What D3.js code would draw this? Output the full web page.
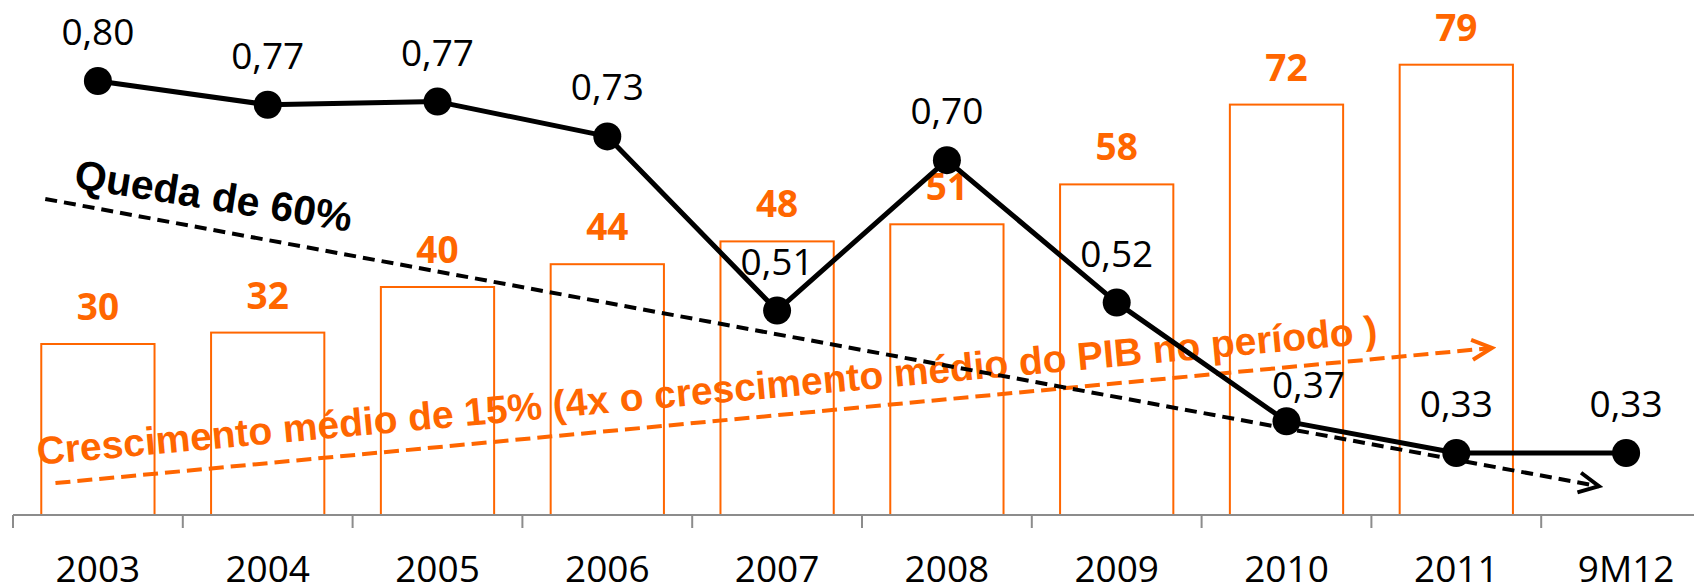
<!DOCTYPE html>
<html>
<head>
<meta charset="utf-8">
<script src="https://cdn.jsdelivr.net/npm/d3@7"></script>
<style>
  body { margin: 0; background: #fff; }
  svg { display: block; }
</style>
</head>
<body>
<svg id="chart"></svg>
<script>
const svgWidth = 1694;
const svgHeight = 587;
const orange = "#FF6600";

// data
const categories = ["2003", "2004", "2005", "2006", "2007", "2008", "2009", "2010", "2011", "9M12"];
const barValues = [30, 32, 40, 44, 48, 51, 58, 72, 79, null];
const lineValues = [0.80, 0.77, 0.774, 0.73, 0.51, 0.70, 0.52, 0.37, 0.33, 0.33];

// annotations (x in category units, y in the unit of the series they follow)
const dropTrend = { x0: 0.19, y0: 0.651, x1: 9.34, y1: 0.288 };
const growthTrend = { x0: 0.25, y0: 5.6, x1: 8.71, y1: 29.3 };
const dropText = "Queda de 60%";
const growthText = "Crescimento médio de 15% (4x o crescimento médio do PIB no período )";

const left = 13;
const step = 169.8;
const baseY = 515;

const svg = d3.select("#chart")
  .attr("width", svgWidth)
  .attr("height", svgHeight);

const x = d3.scaleBand()
  .domain(categories)
  .range([left, left + step * categories.length])
  .padding(0);

const xi = d3.scaleLinear()
  .domain([0, categories.length])
  .range([left, left + step * categories.length]);

const yBar = d3.scaleLinear().domain([0, 90]).range([baseY, baseY - 513]);
const yLine = d3.scaleLinear().domain([0.33, 0.80]).range([453, 81]);

const cx = c => x(c) + x.bandwidth() / 2;
const barW = x.bandwidth() * 0.667;

// bars
const bars = categories.map((c, i) => ({ c, v: barValues[i] })).filter(d => d.v != null);

svg.append("g")
  .selectAll("rect")
  .data(bars)
  .join("rect")
  .attr("x", d => cx(d.c) - barW / 2)
  .attr("y", d => yBar(d.v))
  .attr("width", barW)
  .attr("height", d => baseY - yBar(d.v))
  .attr("fill", "#fff")
  .attr("stroke", orange)
  .attr("stroke-width", 2);

svg.append("g")
  .selectAll("text")
  .data(bars)
  .join("text")
  .attr("x", d => cx(d.c))
  .attr("y", d => yBar(d.v) - 24)
  .attr("text-anchor", "middle")
  .attr("font-family", "'Open Sans', sans-serif")
  .attr("font-weight", "bold")
  .attr("font-size", 37)
  .attr("fill", orange)
  .text(d => d.v);

// x axis
const axis = svg.append("g")
  .attr("transform", "translate(0," + baseY + ")");

axis.append("line")
  .attr("x1", left).attr("x2", svgWidth)
  .attr("y1", 0).attr("y2", 0)
  .attr("stroke", "#8c8c8c")
  .attr("stroke-width", 2);

axis.selectAll("line.tick")
  .data(d3.range(categories.length + 1))
  .join("line")
  .attr("class", "tick")
  .attr("x1", d => xi(d)).attr("x2", d => xi(d))
  .attr("y1", 0).attr("y2", 13)
  .attr("stroke", "#8c8c8c")
  .attr("stroke-width", 2);

const labels = axis.append("g")
  .call(d3.axisBottom(x).tickSize(0).tickPadding(41));
labels.select(".domain").remove();
labels.selectAll("text")
  .attr("font-family", "'Open Sans', sans-serif")
  .attr("font-size", 37)
  .attr("fill", "#000");

// arrow markers
const defs = svg.append("defs");
[["arrowBlack", "#000", 4], ["arrowOrange", orange, 4]].forEach(([id, col, w]) => {
  defs.append("marker")
    .attr("id", id)
    .attr("viewBox", "-24 -14 28 28")
    .attr("markerUnits", "userSpaceOnUse")
    .attr("markerWidth", 28)
    .attr("markerHeight", 28)
    .attr("refX", 0).attr("refY", 0)
    .attr("orient", "auto")
    .append("path")
    .attr("d", "M-20,-10 L0,0 L-20,10")
    .attr("fill", "none")
    .attr("stroke", col)
    .attr("stroke-width", w);
});

// growth trend (orange)
svg.append("line")
  .attr("x1", xi(growthTrend.x0)).attr("y1", yBar(growthTrend.y0))
  .attr("x2", xi(growthTrend.x1)).attr("y2", yBar(growthTrend.y1))
  .attr("stroke", orange)
  .attr("stroke-width", 4)
  .attr("stroke-dasharray", "15,7")
  .attr("marker-end", "url(#arrowOrange)");

svg.append("text")
  .attr("transform", "translate(" + xi(0.147) + "," + yBar(8.8) + ") rotate(-5.2)")
  .attr("font-family", "'Liberation Sans', Arial, sans-serif")
  .attr("font-weight", "bold")
  .attr("font-size", 39)
  .attr("fill", orange)
  .text(growthText);

// drop trend (black)
svg.append("line")
  .attr("x1", xi(dropTrend.x0)).attr("y1", yLine(dropTrend.y0))
  .attr("x2", xi(dropTrend.x1)).attr("y2", yLine(dropTrend.y1))
  .attr("stroke", "#000")
  .attr("stroke-width", 4)
  .attr("stroke-dasharray", "12,7")
  .attr("marker-end", "url(#arrowBlack)");

svg.append("text")
  .attr("transform", "translate(" + xi(0.353) + "," + yLine(0.665) + ") rotate(9)")
  .attr("font-family", "'Liberation Sans', Arial, sans-serif")
  .attr("font-weight", "bold")
  .attr("font-size", 41)
  .attr("fill", "#000")
  .text(dropText);

// line series
const pts = categories.map((c, i) => ({ c, v: lineValues[i] }));

svg.append("path")
  .datum(pts)
  .attr("fill", "none")
  .attr("stroke", "#000")
  .attr("stroke-width", 5)
  .attr("stroke-linejoin", "round")
  .attr("d", d3.line().x(d => cx(d.c)).y(d => yLine(d.v)));

svg.append("g")
  .selectAll("circle")
  .data(pts)
  .join("circle")
  .attr("cx", d => cx(d.c))
  .attr("cy", d => yLine(d.v))
  .attr("r", 14)
  .attr("fill", "#000");

// label nudges, as placed in the original
const labelShift = { "2010": [22, 13] };
const fmt = d3.format(".2f");

svg.append("g")
  .selectAll("text")
  .data(pts)
  .join("text")
  .attr("x", d => cx(d.c) + (labelShift[d.c] ? labelShift[d.c][0] : 0))
  .attr("y", d => yLine(d.v) - 36 + (labelShift[d.c] ? labelShift[d.c][1] : 0))
  .attr("text-anchor", "middle")
  .attr("font-family", "'Open Sans', sans-serif")
  .attr("font-size", 37)
  .attr("fill", "#000")
  .text(d => fmt(d.v).replace(".", ","));
</script>
</body>
</html>
